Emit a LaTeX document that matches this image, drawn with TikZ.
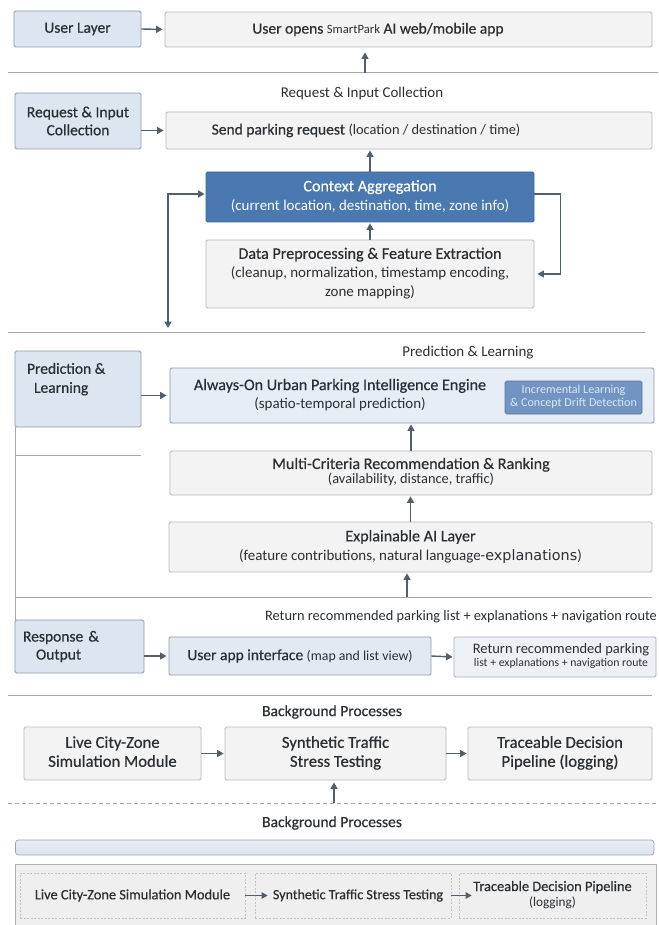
\documentclass[tikz,border=0pt]{standalone}
\usepackage{fontspec}
\setmainfont{Carlito}
\newfontfamily\semi{Carlito}[FakeBold=0.5]
\newfontfamily\dvfont{DejaVu Sans}
\usetikzlibrary{arrows.meta}
\newcommand{\fsz}[2]{\pgfmathsetmacro\fszval{#1*1.15}\fontsize{\fszval pt}{#2pt}\selectfont}
\definecolor{txt}{HTML}{2A2F34}
\definecolor{sidefill}{HTML}{DCE5F0}
\definecolor{sideline}{HTML}{8E9BAA}
\definecolor{mainfill}{HTML}{F3F3F3}
\definecolor{mainline}{HTML}{B4B8BC}
\definecolor{ctxfill}{HTML}{4A79B2}
\definecolor{ctxline}{HTML}{3E6799}
\definecolor{aofill}{HTML}{E7EDF5}
\definecolor{incfill}{HTML}{7194C3}
\definecolor{inctext}{HTML}{DCE7F5}
\definecolor{uafill}{HTML}{E2E9F2}
\definecolor{rrfill}{HTML}{EDF1F6}
\definecolor{arrc}{HTML}{515E6B}
\definecolor{sepc}{HTML}{A3A8AD}
\definecolor{barfill}{HTML}{DAE2EB}
\definecolor{barline}{HTML}{9AA7B5}
\definecolor{contfill}{HTML}{EFEFEF}
\definecolor{contline}{HTML}{AEB2B6}
\begin{document}
\begin{tikzpicture}[x=1pt,y=-1pt,
  sidebox/.style={draw=sideline, fill=sidefill, line width=0.8pt, rounded corners=1.5pt, text=txt, inner sep=4pt, font=\semi\fsz{13.5}{18}},
  mainbox/.style={draw=mainline, fill=mainfill, line width=0.8pt, rounded corners=1.5pt, text=txt, inner sep=2pt},
  ctxbox/.style={draw=ctxline, fill=ctxfill, line width=0.8pt, rounded corners=1.5pt, text=white, inner sep=2pt},
  aobox/.style={mainbox, fill=aofill, draw=sideline},
  incbox/.style={draw=incfill!80!black, fill=incfill, line width=0.6pt, rounded corners=1.5pt, text=inctext, inner sep=1pt},
  uabox/.style={mainbox, fill=uafill, draw=sideline},
  rrbox/.style={mainbox, fill=rrfill, draw=sideline!80},
  dbox/.style={draw=contline!80, dashed, dash pattern=on 2pt off 1.5pt, fill=contfill, line width=0.6pt, text=txt, inner sep=1pt},
  lab/.style={text=txt, inner sep=0pt},
  arr/.style={draw=arrc, line width=1.4pt, -{Triangle[length=6.5pt,width=7pt]}},
  thinarr/.style={draw=arrc, line width=1.1pt, -{Triangle[length=6pt,width=6.5pt]}},
  sep/.style={draw=sepc, line width=0.9pt}
]
\useasboundingbox (0,0) rectangle (658,925);
\fill[white] (0,0) rectangle (658,925);

% ---------- User layer
\node[sidebox, minimum width=127pt, minimum height=36pt] (ul) at (77.5,29) {User Layer};
\node[mainbox, minimum width=487pt, minimum height=35pt, font=\semi\fsz{13.5}{16}] (uo) at (408.5,29.5)
  {User opens {\normalfont\fsz{11}{13}SmartPark} AI web/mobile app\hspace*{61pt}};
\draw[arr, shorten >=2pt] (ul.east) -- (uo.west);
\draw[sep] (8,72.7) -- (658,72.7);
\coordinate (s1) at (365,72.7);
\draw[arr, shorten >=5pt] (s1) -- (uo.south -| s1);

% ---------- Request & input
\node[lab, font=\fsz{13}{16}] (l1) at (362,94) {Request \& Input Collection};
\node[sidebox, minimum width=126pt, minimum height=56pt, align=center] (ri) at (78,121) {Request \& Input\\Collection};
\node[mainbox, minimum width=486pt, minimum height=37pt, font=\fsz{13.5}{16}] (sp) at (409,130.5)
  {{\semi Send parking request} {\fsz{12.5}{15}(location / destination / time)}\hspace*{86pt}};
\draw[arr, shorten >=2pt] (ri.east |- sp.west) -- (sp.west);

\node[ctxbox, minimum width=328pt, minimum height=50pt, font=\fsz{13}{19}] (ctx) at (370,197)
  {\begin{tabular}{@{}c@{}}{\semi\fsz{14}{19}Context Aggregation}\\(current location, destination, time, zone info)\end{tabular}};
\node[mainbox, minimum width=328pt, minimum height=68pt, font=\fsz{13}{19}] (dp) at (370,274)
  {\begin{tabular}{@{}c@{}}{\semi\fsz{14}{19}Data Preprocessing \& Feature Extraction}\\(cleanup, normalization, timestamp encoding,\\zone mapping)\end{tabular}};
\draw[arr, shorten >=1pt] (ctx.north) -- (sp.south -| ctx.north);
\draw[arr, shorten >=1pt] (dp.north) -- (ctx.south);
\coordinate (lb) at (168,328);
\draw[arr, {Triangle[length=6.5pt,width=7pt]}-{Triangle[length=6.5pt,width=7pt]}, shorten >=1pt] (lb) |- ([yshift=3pt]ctx.west);
\draw[arr, shorten >=3pt] ([yshift=3pt]ctx.east) -- ++(26pt,0) |- (dp.east);
\draw[sep] (8,332) -- (645,332);

% ---------- Prediction & learning
\node[lab, font=\fsz{13}{16}] (l2) at (468,353) {Prediction \& Learning};
\node[sidebox, minimum width=126pt, minimum height=76pt, inner sep=0pt, font=\semi\fsz{13.5}{19}] (pls) at (78,389)
  {\parbox[c][76pt][t]{102pt}{\vspace*{12pt}Prediction \&\\\hspace*{7pt}Learning}};
\draw[sep] (15,427) -- (15,620);
\draw[sep] (15,455) -- (141,455);
\node[aobox, minimum width=484pt, minimum height=55pt, font=\fsz{14}{18}] (ao) at (412,395.5)
  {\begin{tabular}{@{}c@{}}{\semi Always-On Urban Parking Intelligence Engine}\\{\fsz{13}{18}(spatio-temporal prediction)}\end{tabular}\hspace*{144pt}};
\node[incbox, minimum width=137pt, minimum height=33pt, font=\fsz{10.5}{12.5}] (inc) at (573.5,397.5)
  {\begin{tabular}{@{}c@{}}Incremental Learning\\\& Concept Drift Detection\end{tabular}};
\draw[arr, shorten >=3pt] (pls.east |- ao.west) -- (ao.west);

\node[mainbox, minimum width=482pt, minimum height=44pt, font=\fsz{14}{14.5}] (mc) at (411,473)
  {\begin{tabular}{@{}c@{}}{\semi Multi-Criteria Recommendation \& Ranking}\\{\fsz{12.5}{14.5}(availability, distance, traffic)}\end{tabular}};
\draw[arr, shorten >=1pt] (mc.north) -- (ao.south -| mc.north);

\node[mainbox, minimum width=483pt, minimum height=50pt, font=\fsz{13}{19}] (xai) at (410.5,547)
  {\begin{tabular}{@{}c@{}}{\semi\fsz{14}{19}Explainable AI Layer}\\(feature contributions, natural language-{\dvfont\fsz{12.5}{19}explanations})\end{tabular}};
\draw[arr, shorten >=1pt] (xai.north) -- (mc.south -| xai.north);
\draw[sep] (15,597) -- (652,597);
\coordinate (s3) at (407,597);
\draw[arr, shorten >=1pt] (s3) -- (xai.south -| s3);

% ---------- Response & output
\node[lab, font=\fsz{12.5}{15}] (l3) at (461,617) {Return recommended parking list + explanations + navigation route};
\node[sidebox, minimum width=129pt, minimum height=53pt, text width=113pt, align=left] (ro) at (79.5,646.5)
  {Response \&\\\hspace*{13pt}Output};
\node[uabox, minimum width=262pt, minimum height=38pt, font=\fsz{13.5}{16}] (ua) at (300,656)
  {{\semi User app interface} {\fsz{12}{14}(map and list view)}};
\node[rrbox, minimum width=202pt, minimum height=40pt, font=\fsz{12.6}{13}] (rr) at (555,657)
  {\hspace*{12pt}\begin{tabular}{@{}c@{}}Return recommended parking\\{\fsz{10.2}{13}list + explanations + navigation route}\end{tabular}};
\draw[arr, shorten >=2pt] (ro.east |- ua.west) -- (ua.west);
\draw[arr, shorten >=1pt] (ua.east) -- (rr.west);
\draw[sep] (8,695) -- (652,695);

% ---------- Background processes
\node[lab, font=\semi\fsz{13.5}{16}] (l4) at (332,712) {Background Processes};
\node[mainbox, minimum width=177pt, minimum height=53pt, font=\semi\fsz{14.5}{19}] (lc) at (112.5,753.5)
  {\begin{tabular}{@{}c@{}}Live City-Zone\\Simulation Module\end{tabular}};
\node[mainbox, minimum width=221pt, minimum height=53pt, font=\semi\fsz{14.5}{19}] (st) at (335.5,753.5)
  {\begin{tabular}{@{}c@{}}Synthetic Traffic\\Stress Testing\end{tabular}};
\node[mainbox, minimum width=184pt, minimum height=53pt, font=\semi\fsz{14.5}{19}] (td) at (560,753.5)
  {\begin{tabular}{@{}c@{}}Traceable Decision\\Pipeline (logging)\end{tabular}};
\draw[arr, shorten >=1pt] (lc.east) -- (st.west);
\draw[arr, shorten >=1pt] (st.east) -- (td.west);
\draw[sep, dashed, dash pattern=on 4pt off 3pt] (8,803) -- (658,803);
\coordinate (s5) at (334,803);
\draw[arr, shorten >=2pt] (s5) -- (st.south -| s5);

\node[lab, font=\semi\fsz{13.5}{16}] (l5) at (332,823) {Background Processes};
\draw[draw=barline, line width=0.7pt, top color=barfill!60!white, bottom color=barfill, rounded corners=3pt] (15.5,840) rectangle (654,855);
\draw[draw=contline, fill=contfill, line width=0.8pt] (15.5,864) rectangle (656,926);
\node[dbox, minimum width=225pt, minimum height=45pt, font=\semi\fsz{12.5}{15}] (b1) at (132.5,895.5) {Live City-Zone Simulation Module};
\node[dbox, minimum width=196pt, minimum height=45pt, font=\semi\fsz{12.2}{15}] (b2) at (353,895.5) {\hspace*{10pt}Synthetic Traffic Stress Testing};
\node[dbox, minimum width=187pt, minimum height=45pt, font=\fsz{12.5}{15}] (b3) at (552.5,895.5)
  {\begin{tabular}{@{}c@{}}{\semi Traceable Decision Pipeline}\\{\fsz{11.5}{15}(logging)}\end{tabular}};
\draw[thinarr] (b1.east) -- ([xshift=13pt]b2.west);
\draw[thinarr] (b2.east) -- ([xshift=13pt]b3.west);
\end{tikzpicture}
\end{document}
